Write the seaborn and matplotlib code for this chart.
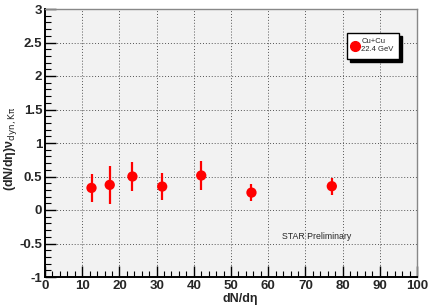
import matplotlib
matplotlib.use("Agg")
import seaborn as sns
from matplotlib import pyplot as plt
from matplotlib.ticker import MultipleLocator
from matplotlib.lines import Line2D
import pandas as pd

dndeta = [12.5, 17.4, 23.5, 31.5, 42.0, 55.5, 77.1]            # x: dN/deta
nu_dyn = [0.33, 0.375, 0.50, 0.35, 0.515, 0.26, 0.355]         # y values
err_y = [0.21, 0.28, 0.22, 0.195, 0.21, 0.13, 0.125]           # y errors

df = pd.DataFrame({"x": dndeta, "y": nu_dyn, "err": err_y})

sns.set_style("white")
plt.rcParams["font.family"] = ["Liberation Sans", "DejaVu Sans"]

fig = plt.figure(figsize=(4.36, 3.08), dpi=100)
ax = fig.add_axes([45/436, 31/308, 372/436, 268/308])
ax.set_facecolor("#f2f2f2")

ax.errorbar(df["x"], df["y"], yerr=df["err"], fmt="none", ecolor="red",
            elinewidth=1.6, capsize=0, zorder=3)
sns.scatterplot(data=df, x="x", y="y", color="red", s=55, edgecolor="none",
                ax=ax, zorder=4)

ax.set_xlim(0, 100)
ax.set_ylim(-1, 3)
ax.xaxis.set_major_locator(MultipleLocator(10))
ax.xaxis.set_minor_locator(MultipleLocator(2))
ax.yaxis.set_major_locator(MultipleLocator(0.5))
ax.yaxis.set_minor_locator(MultipleLocator(0.1))
ax.yaxis.set_major_formatter(plt.FuncFormatter(lambda v, p: f"{v:g}"))
ax.grid(True, which="major", color="#555555", linestyle=(0, (1, 2)), linewidth=0.7)
ax.set_axisbelow(True)

ax.tick_params(which="both", direction="in", left=True, bottom=True,
               top=False, right=False, color="black")
ax.tick_params(which="major", length=8, width=1.0, labelsize=9.5, pad=2)
ax.tick_params(which="minor", length=4, width=0.8)
for lab in ax.get_xticklabels() + ax.get_yticklabels():
    lab.set_fontweight("bold")

for side in ["left", "bottom"]:
    ax.spines[side].set_color("black")
    ax.spines[side].set_linewidth(1.4)
for side in ["top", "right"]:
    ax.spines[side].set_visible(True)
    ax.spines[side].set_color("#888888")
    ax.spines[side].set_linewidth(1.0)

ax.set_xlabel("dN/d\u03b7", fontsize=9, fontweight="bold", labelpad=0)
ax.xaxis.set_label_coords(0.524, -0.058)
ax.set_ylabel("(dN/d\u03b7)\u03bd$_{\\rm dyn,K\u03c0}$", fontsize=9,
              fontweight="bold", labelpad=2)
ax.yaxis.set_label_coords(-0.07, 0.48)

ax.text(0.638, 0.152, "STAR Preliminary", transform=ax.transAxes,
        fontsize=6.3, ha="left", va="center")

handle = Line2D([], [], linestyle="none", marker="o", color="red",
                markersize=7)
leg = ax.legend([handle], ["Cu+Cu\n22.4 GeV"], loc="upper left",
                bbox_to_anchor=(0.813, 0.91), fontsize=5.5, frameon=True,
                fancybox=False, shadow={"color": "black", "alpha": 1},
                handlelength=0.7, handletextpad=0.4, borderpad=0.7,
                borderaxespad=0)
leg.get_frame().set_edgecolor("black")
leg.get_frame().set_linewidth(1.0)
leg.get_frame().set_facecolor("white")

fig.savefig("out.png", dpi=100, facecolor="white")
